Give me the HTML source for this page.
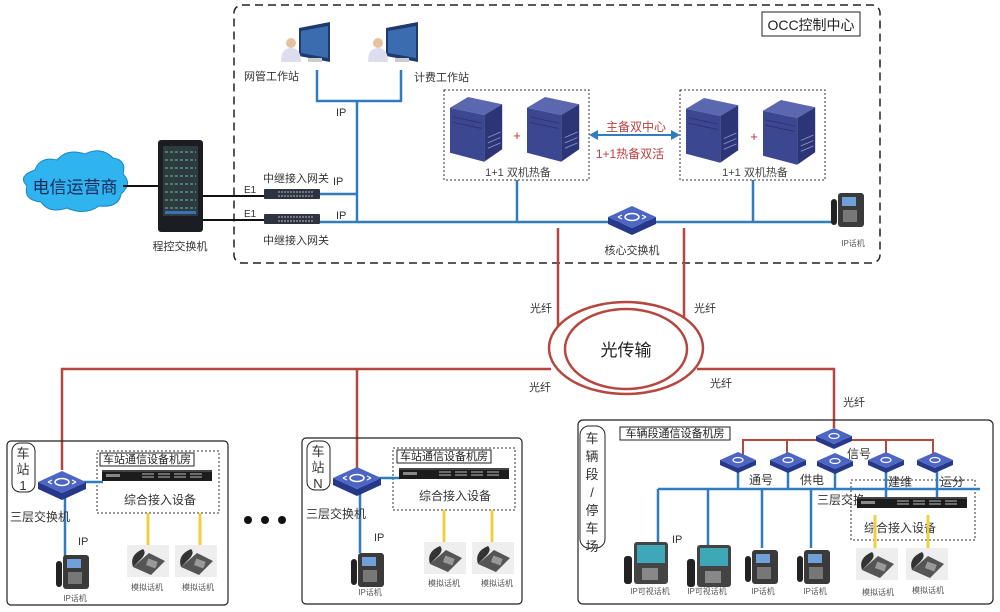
<!DOCTYPE html>
<html><head><meta charset="utf-8"><style>
html,body{margin:0;padding:0;background:#fff;}
svg{display:block;font-family:"Liberation Sans","Noto Sans CJK SC",sans-serif;}
</style></head><body>
<svg width="1000" height="612" viewBox="0 0 1000 612" xmlns="http://www.w3.org/2000/svg">
<defs>
<g id="sw">
<polygon points="-24,0 0,11 24,0 24,7 0,18 -24,7" fill="#26388a"/>
<polygon points="-24,0 0,-11 24,0 0,11" fill="#4d66c4"/>
<ellipse cx="0" cy="0" rx="7" ry="3.5" fill="none" stroke="#fff" stroke-width="1.5"/>
<path d="M-14,0 l4,-2 M14,0 l-4,-2 M-14,0 l4,2 M14,0 l-4,2" stroke="#fff" stroke-width="1.2"/>
</g>
<g id="sws">
<polygon points="-18,0 0,8 18,0 18,5 0,13 -18,5" fill="#26388a"/>
<polygon points="-18,0 0,-8 18,0 0,8" fill="#4d66c4"/>
<ellipse cx="0" cy="0" rx="5" ry="2.5" fill="none" stroke="#fff" stroke-width="1.2"/>
</g>
<g id="srv" transform="scale(0.9)">
<polygon points="0,12 20,0 58,8 38,20" fill="#5b68b0"/>
<polygon points="0,12 38,20 38,72 0,62" fill="#3c4791"/>
<polygon points="38,20 58,8 58,58 38,72" fill="#2c3576"/>
<path d="M3,22 L35,29 M3,28 L35,35" stroke="#2a3370" stroke-width="1"/>
<path d="M42,45 l14,-6 M42,51 l14,-6 M42,57 l14,-6" stroke="#8890c8" stroke-width="1"/>
</g>
<g id="ipp">
<rect x="0" y="6" width="6" height="26" rx="3" fill="#222"/>
<rect x="7" y="0" width="26" height="34" rx="3" fill="#3a3a3a"/>
<rect x="11" y="4" width="14" height="9" fill="#6fa0d8"/>
<rect x="12" y="17" width="14" height="12" fill="#777"/>
</g>
<g id="vp">
<rect x="0" y="14" width="8" height="28" rx="3" fill="#222"/>
<rect x="10" y="0" width="34" height="42" rx="3" fill="#444"/>
<rect x="13" y="3" width="28" height="18" fill="#3ea8b8"/>
<rect x="18" y="26" width="16" height="12" fill="#888"/>
</g>
<g id="ap">
<rect x="0" y="0" width="42" height="32" fill="#eee"/>
<polygon points="6,22 22,8 38,16 24,30" fill="#555"/>
<path d="M6,22 q-4,-12 10,-18 q4,4 -2,10" fill="#333"/>
<rect x="20" y="15" width="10" height="7" fill="#999" transform="rotate(20 25 18)"/>
</g>
<g id="dev">
<rect x="0" y="0" width="110" height="11" fill="#1c1c1c"/>
<rect x="0" y="0" width="110" height="2" fill="#444"/>
<rect x="4" y="4" width="14" height="3" fill="#888"/>
<path d="M40,4h12M56,4h12M72,4h12M88,4h12M40,7h12M56,7h12M72,7h12M88,7h12" stroke="#bbb" stroke-width="1"/>
</g>
<g id="gw">
<rect x="0" y="0" width="56" height="10" rx="1" fill="#2d3340"/>
<path d="M14,3h36M14,7h36" stroke="#bbb" stroke-width="1" stroke-dasharray="2,1"/>
</g>
</defs>

<rect x="234" y="5" width="646" height="258" rx="8" fill="none" stroke="#222" stroke-width="1.5" stroke-dasharray="8,5"/>
<rect x="762" y="12" width="98" height="24" fill="#fff" stroke="#222"/>
<text x="811" y="30" font-size="14" text-anchor="middle" fill="#222">OCC控制中心</text>

<g>
<polygon points="299,28 330,22 330,62 299,56" fill="#1e3a6e"/><polygon points="301,31 328,26 328,58 301,53" fill="#3c6cb0"/>
<rect x="308" y="58" width="14" height="4" fill="#ccc"/>
<circle cx="291" cy="43" r="5" fill="#e6c3a0"/><path d="M281,62 q0,-14 10,-14 q10,0 10,14z" fill="#dde"/>
<polygon points="386,28 418,22 418,62 386,56" fill="#1e3a6e"/><polygon points="388,31 416,26 416,58 388,53" fill="#3c6cb0"/>
<rect x="395" y="58" width="14" height="4" fill="#ccc"/>
<circle cx="378" cy="43" r="5" fill="#e6c3a0"/><path d="M368,62 q0,-14 10,-14 q10,0 10,14z" fill="#dde"/>
</g>
<text x="244" y="80" font-size="11" fill="#333">网管工作站</text>
<text x="414" y="81" font-size="11" fill="#333">计费工作站</text>

<g stroke="#2f7cc0" stroke-width="2.5" fill="none">
<path d="M317,70 V101 H401 V70"/>
<path d="M357,101 V222"/>
<path d="M320,194 H357"/>
<path d="M320,222 H832"/>
<path d="M517,180 V222"/>
<path d="M753,180 V222"/>
</g>
<text x="336" y="116" font-size="11" fill="#333">IP</text>
<text x="333" y="185" font-size="11" fill="#333">IP</text>
<text x="336" y="219" font-size="11" fill="#333">IP</text>

<path d="M35,170 q5,-14 22,-10 q10,-12 28,-6 q16,-8 28,4 q14,2 10,16 q10,10 -2,20 q-2,14 -22,12 q-14,10 -32,2 q-18,6 -26,-6 q-18,-2 -14,-16 q-10,-10 8,-16z" fill="#2fb4ef" stroke="#1f86c0"/>
<text x="75" y="193" font-size="17" text-anchor="middle" fill="#1a2a5a">电信运营商</text>
<path d="M123,186 H158 M203,196 H265 M203,220 H265" stroke="#111" stroke-width="2"/>
<rect x="158" y="140" width="45" height="92" rx="3" fill="#1b1d22"/>
<rect x="163" y="146" width="35" height="70" fill="#2e3b3e"/>
<path d="M165,152h31M165,160h31M165,168h31M165,176h31M165,184h31M165,192h31M165,200h31M165,208h31" stroke="#5f8f86" stroke-width="1.5" stroke-dasharray="3,2"/>
<rect x="165" y="211" width="31" height="3" fill="#3b6fb8"/>
<text x="180" y="250" font-size="11" text-anchor="middle" fill="#333">程控交换机</text>
<text x="244" y="193" font-size="10" fill="#333">E1</text>
<text x="244" y="217" font-size="10" fill="#333">E1</text>
<use href="#gw" x="264" y="189"/>
<use href="#gw" x="264" y="214"/>
<text x="263" y="182" font-size="11" fill="#333">中继接入网关</text>
<text x="263" y="244" font-size="11" fill="#333">中继接入网关</text>

<rect x="444" y="90" width="145" height="90" fill="none" stroke="#333" stroke-dasharray="2,2"/>
<rect x="680" y="90" width="145" height="90" fill="none" stroke="#333" stroke-dasharray="2,2"/>
<use href="#srv" x="450" y="97"/><use href="#srv" x="527" y="97"/>
<use href="#srv" x="686" y="98"/><use href="#srv" x="763" y="100"/>
<text x="517" y="140" font-size="13" fill="#c03030" text-anchor="middle">+</text>
<text x="754" y="141" font-size="13" fill="#c03030" text-anchor="middle">+</text>
<text x="518" y="176" font-size="11" fill="#444" text-anchor="middle">1+1 双机热备</text>
<text x="755" y="176" font-size="11" fill="#444" text-anchor="middle">1+1 双机热备</text>
<path d="M596,135 H673" stroke="#2f7cc0" stroke-width="2"/>
<polygon points="589,135 598,130 598,140" fill="#2f7cc0"/><polygon points="680,135 671,130 671,140" fill="#2f7cc0"/>
<text x="636" y="131" font-size="12" fill="#b84040" text-anchor="middle">主备双中心</text>
<text x="630" y="158" font-size="12" fill="#b84040" text-anchor="middle">1+1热备双活</text>

<use href="#sw" x="632" y="217"/>
<text x="632" y="254" font-size="11" text-anchor="middle" fill="#333">核心交换机</text>
<use href="#ipp" x="831" y="193"/>
<text x="853" y="246" font-size="8" text-anchor="middle" fill="#555">IP话机</text>

<g stroke="#b5473f" stroke-width="2.5" fill="none">
<path d="M558,228 V330 M684,228 V330"/>
<path d="M551,369 H62 V470 M357,369 V468 M697,369 H834 V428"/>
<ellipse cx="626" cy="348" rx="77" ry="46" fill="#fff"/>
<ellipse cx="626" cy="349" rx="61" ry="40"/>
</g>
<text x="626" y="356" font-size="17" text-anchor="middle" fill="#222">光传输</text>
<text x="530" y="312" font-size="11" fill="#333">光纤</text>
<text x="694" y="312" font-size="11" fill="#333">光纤</text>
<text x="529" y="391" font-size="11" fill="#333">光纤</text>
<text x="710" y="387" font-size="11" fill="#333">光纤</text>
<text x="843" y="406" font-size="11" fill="#333">光纤</text>

<rect x="7" y="441" width="221" height="164" rx="4" fill="none" stroke="#222" stroke-width="1.2"/>
<rect x="12" y="443" width="23" height="49" rx="8" fill="#fff" stroke="#222"/>
<text x="23" y="458" font-size="13" text-anchor="middle" fill="#333">车</text>
<text x="23" y="474" font-size="13" text-anchor="middle" fill="#333">站</text>
<text x="23" y="490" font-size="13" text-anchor="middle" fill="#333">1</text>
<rect x="97" y="451" width="122" height="62" fill="none" stroke="#333" stroke-dasharray="2,2"/>
<rect x="100" y="453" width="94" height="13" fill="#fff" stroke="#222"/>
<text x="147" y="463" font-size="11" text-anchor="middle" fill="#222">车站通信设备机房</text>
<path d="M84,482 H103" stroke="#2f7cc0" stroke-width="2.5"/>
<path d="M65,495 V558" stroke="#2f7cc0" stroke-width="2.5"/>
<use href="#sw" x="62" y="482"/>
<use href="#dev" x="102" y="470"/>
<text x="160" y="504" font-size="12" text-anchor="middle" fill="#333">综合接入设备</text>
<text x="10" y="521" font-size="12" fill="#333">三层交换机</text>
<text x="78" y="545" font-size="11" fill="#333">IP</text>
<path d="M148,513 V545 M200,513 V547" stroke="#f0d040" stroke-width="3"/>
<use href="#ipp" x="56" y="555"/>
<text x="75" y="601" font-size="8" text-anchor="middle" fill="#555">IP话机</text>
<use href="#ap" x="127" y="545"/><use href="#ap" x="175" y="545"/>
<text x="147" y="590" font-size="8" text-anchor="middle" fill="#555">模拟话机</text>
<text x="198" y="590" font-size="8" text-anchor="middle" fill="#555">模拟话机</text>

<circle cx="248" cy="520" r="4" fill="#111"/><circle cx="265" cy="520" r="4" fill="#111"/><circle cx="282" cy="520" r="4" fill="#111"/>

<rect x="302" y="438" width="220" height="166" rx="4" fill="none" stroke="#222" stroke-width="1.2"/>
<rect x="307" y="441" width="23" height="49" rx="8" fill="#fff" stroke="#222"/>
<text x="318" y="456" font-size="13" text-anchor="middle" fill="#333">车</text>
<text x="318" y="472" font-size="13" text-anchor="middle" fill="#333">站</text>
<text x="318" y="488" font-size="13" text-anchor="middle" fill="#333">N</text>
<rect x="393" y="448" width="122" height="62" fill="none" stroke="#333" stroke-dasharray="2,2"/>
<rect x="397" y="450" width="94" height="13" fill="#fff" stroke="#222"/>
<text x="444" y="460" font-size="11" text-anchor="middle" fill="#222">车站通信设备机房</text>
<path d="M378,478 H400" stroke="#2f7cc0" stroke-width="2.5"/>
<path d="M360,492 V553" stroke="#2f7cc0" stroke-width="2.5"/>
<use href="#sw" x="357" y="478"/>
<use href="#dev" x="399" y="468"/>
<text x="455" y="500" font-size="12" text-anchor="middle" fill="#333">综合接入设备</text>
<text x="306" y="518" font-size="12" fill="#333">三层交换机</text>
<text x="374" y="541" font-size="11" fill="#333">IP</text>
<path d="M444,510 V542 M492,510 V542" stroke="#f0d040" stroke-width="3"/>
<use href="#ipp" x="351" y="553"/>
<text x="370" y="595" font-size="8" text-anchor="middle" fill="#555">IP话机</text>
<use href="#ap" x="424" y="542"/><use href="#ap" x="472" y="542"/>
<text x="444" y="586" font-size="8" text-anchor="middle" fill="#555">模拟话机</text>
<text x="497" y="586" font-size="8" text-anchor="middle" fill="#555">模拟话机</text>

<rect x="578" y="420" width="415" height="184" rx="5" fill="none" stroke="#222" stroke-width="1.2"/>
<rect x="580" y="426" width="25" height="122" rx="9" fill="#fff" stroke="#222"/>
<g font-size="13" text-anchor="middle" fill="#333">
<text x="592" y="443">车</text><text x="592" y="461">辆</text><text x="592" y="479">段</text><text x="592" y="497">/</text><text x="592" y="515">停</text><text x="592" y="533">车</text><text x="592" y="551">场</text></g>
<rect x="620" y="427" width="110" height="13" fill="#fff" stroke="#222"/>
<text x="675" y="437" font-size="11" text-anchor="middle" fill="#222">车辆段通信设备机房</text>
<path d="M743,455 V440 H933 V455 M787,455 V440 M886,455 V440" stroke="#b5473f" stroke-width="2" fill="none"/>
<rect x="851" y="480" width="124" height="60" fill="none" stroke="#333" stroke-dasharray="2,2"/>
<g stroke="#2f7cc0" stroke-width="2.5" fill="none">
<path d="M658,489 H980"/>
<path d="M658,489 V545 M708,489 V545 M762,489 V548 M811,489 V548"/>
<path d="M738,462 V489 M788,462 V489 M835,462 V489 M886,462 V497 M937,462 V497"/>
</g>
<use href="#sws" x="834" y="436"/>
<use href="#sws" x="738" y="460"/><use href="#sws" x="788" y="460"/><use href="#sws" x="835" y="461"/><use href="#sws" x="886" y="460"/><use href="#sws" x="935" y="460"/>
<text x="749" y="484" font-size="12" fill="#333">通号</text>
<text x="800" y="484" font-size="12" fill="#333">供电</text>
<text x="847" y="458" font-size="12" fill="#333">信号</text>
<text x="888" y="486" font-size="12" fill="#333">建维</text>
<text x="940" y="486" font-size="12" fill="#333">运分</text>
<text x="817" y="504" font-size="12" fill="#333">三层交换</text>
<use href="#dev" x="857" y="497"/>
<text x="900" y="532" font-size="12" text-anchor="middle" fill="#333">综合接入设备</text>
<text x="672" y="543" font-size="11" fill="#333">IP</text>
<path d="M875,515 V548 M928,515 V548" stroke="#f0d040" stroke-width="3"/>
<use href="#vp" x="624" y="542"/><use href="#vp" x="687" y="545"/>
<use href="#ipp" x="745" y="550"/><use href="#ipp" x="797" y="550"/>
<use href="#ap" x="856" y="548"/><use href="#ap" x="906" y="548"/>
<g font-size="8" text-anchor="middle" fill="#555">
<text x="650" y="594">IP可视话机</text><text x="707" y="594">IP可视话机</text><text x="763" y="594">IP话机</text><text x="815" y="594">IP话机</text><text x="878" y="595">模拟话机</text><text x="928" y="593">模拟话机</text></g>
</svg>
</body></html>
